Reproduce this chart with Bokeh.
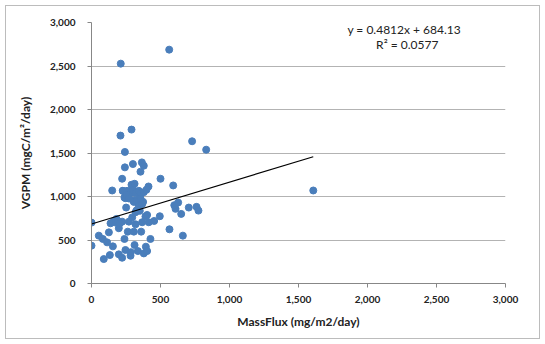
from bokeh.plotting import figure
from bokeh.models import Range1d, FixedTicker, NumeralTickFormatter, Label
from bokeh.embed import file_html
from bokeh.resources import INLINE

mass_flux = [210, 290, 242, 300, 365, 379, 242, 355, 222, 500, 290, 312, 413, 592,
             150, 227, 271, 729, 831, 628, 609, 705, 761, 775, 650, 565, 662, 495,
             454, 427, 0, 0, 53, 82, 113, 126, 155, 89, 133, 198, 222, 246, 283, 312,
             336, 379, 394, 403, 239, 263, 307, 360, 198, 162, 181, 222, 271, 319,
             367, 403, 415, 251, 302, 319, 350, 391, 138, 246, 212, 563, 1607,
             227, 258, 282, 302, 319, 343, 355, 379, 398, 239, 254, 271, 307, 331,
             355, 374, 343, 367, 326, 295, 175, 190, 205, 600, 285]
vgpm = [1700, 1769, 1512, 1373, 1392, 1354, 1335, 1285, 1204, 1204, 1135, 1146, 1115, 1127,
        1069, 1065, 1058, 1635, 1538, 931, 858, 873, 881, 838, 800, 623, 550, 773,
        719, 512, 700, 435, 550, 512, 473, 588, 427, 281, 327, 335, 296, 385, 319, 442,
        373, 346, 423, 373, 512, 596, 596, 596, 635, 719, 742, 711, 711, 681,
        704, 788, 704, 873, 954, 819, 835, 769, 692, 981, 2527, 2688, 1069,
        1065, 1065, 1038, 1077, 1038, 1065, 1031, 1050, 1077, 988, 1015, 977, 938, 958,
        977, 938, 888, 912, 840, 760, 700, 720, 690, 900, 360]

slope = 0.4812
intercept = 684.13
eq_text = "y = 0.4812x + 684.13"
r2_text = "R² = 0.0577"
ticks = [0, 500, 1000, 1500, 2000, 2500, 3000]

p = figure(width=535, height=334, output_backend="svg", toolbar_location=None,
           x_range=Range1d(0, 3000), y_range=Range1d(0, 3000),
           min_border_left=85, min_border_right=36, min_border_top=16, min_border_bottom=57)
p.styles = {"border": "1px solid #bcbcbc", "margin-left": "5px", "margin-top": "5px"}
p.outline_line_color = None
p.background_fill_color = "white"
p.border_fill_color = "white"

p.xgrid.grid_line_color = None
p.ygrid.grid_line_color = "#b3b3b3"
p.ygrid.grid_line_width = 1

for ax in (p.xaxis, p.yaxis):
    ax.ticker = FixedTicker(ticks=ticks)
    ax.formatter = NumeralTickFormatter(format="0,0")
    ax.axis_line_color = "#878787"
    ax.major_tick_line_color = "#878787"
    ax.major_tick_out = 4
    ax.major_tick_in = 0
    ax.minor_tick_line_color = None
    ax.major_label_text_font = "Lato"
    ax.major_label_text_font_style = "bold"
    ax.major_label_text_font_size = "10px"
    ax.major_label_text_color = "#222222"
    ax.axis_label_text_font = "Lato"
    ax.axis_label_text_font_style = "bold"
    ax.axis_label_text_font_size = "12px"
    ax.axis_label_text_color = "#222222"

p.xaxis.axis_label = "MassFlux (mg/m2/day)"
p.yaxis.axis_label = "VGPM (mgC/m²/day)"
p.xaxis.major_label_standoff = 8
p.yaxis.major_label_standoff = 12
p.xaxis.axis_label_standoff = 8
p.yaxis.axis_label_standoff = 14

p.scatter(mass_flux, vgpm, size=7, color="#4a7ebb", line_color="#4a7ebb")

x0, x1 = min(mass_flux), max(mass_flux)
p.line([x0, x1], [slope * x0 + intercept, slope * x1 + intercept], line_color="black", line_width=1.2)

p.add_layout(Label(x=2266, y=2915, text=eq_text,
                   text_align="center", text_baseline="middle", text_font="Lato",
                   text_font_size="12px", text_color="#222222"))
p.add_layout(Label(x=2288, y=2742, text=r2_text,
                   text_align="center", text_baseline="middle", text_font="Lato",
                   text_font_size="12px", text_color="#222222"))

open("out.html", "w").write(file_html(p, INLINE))
